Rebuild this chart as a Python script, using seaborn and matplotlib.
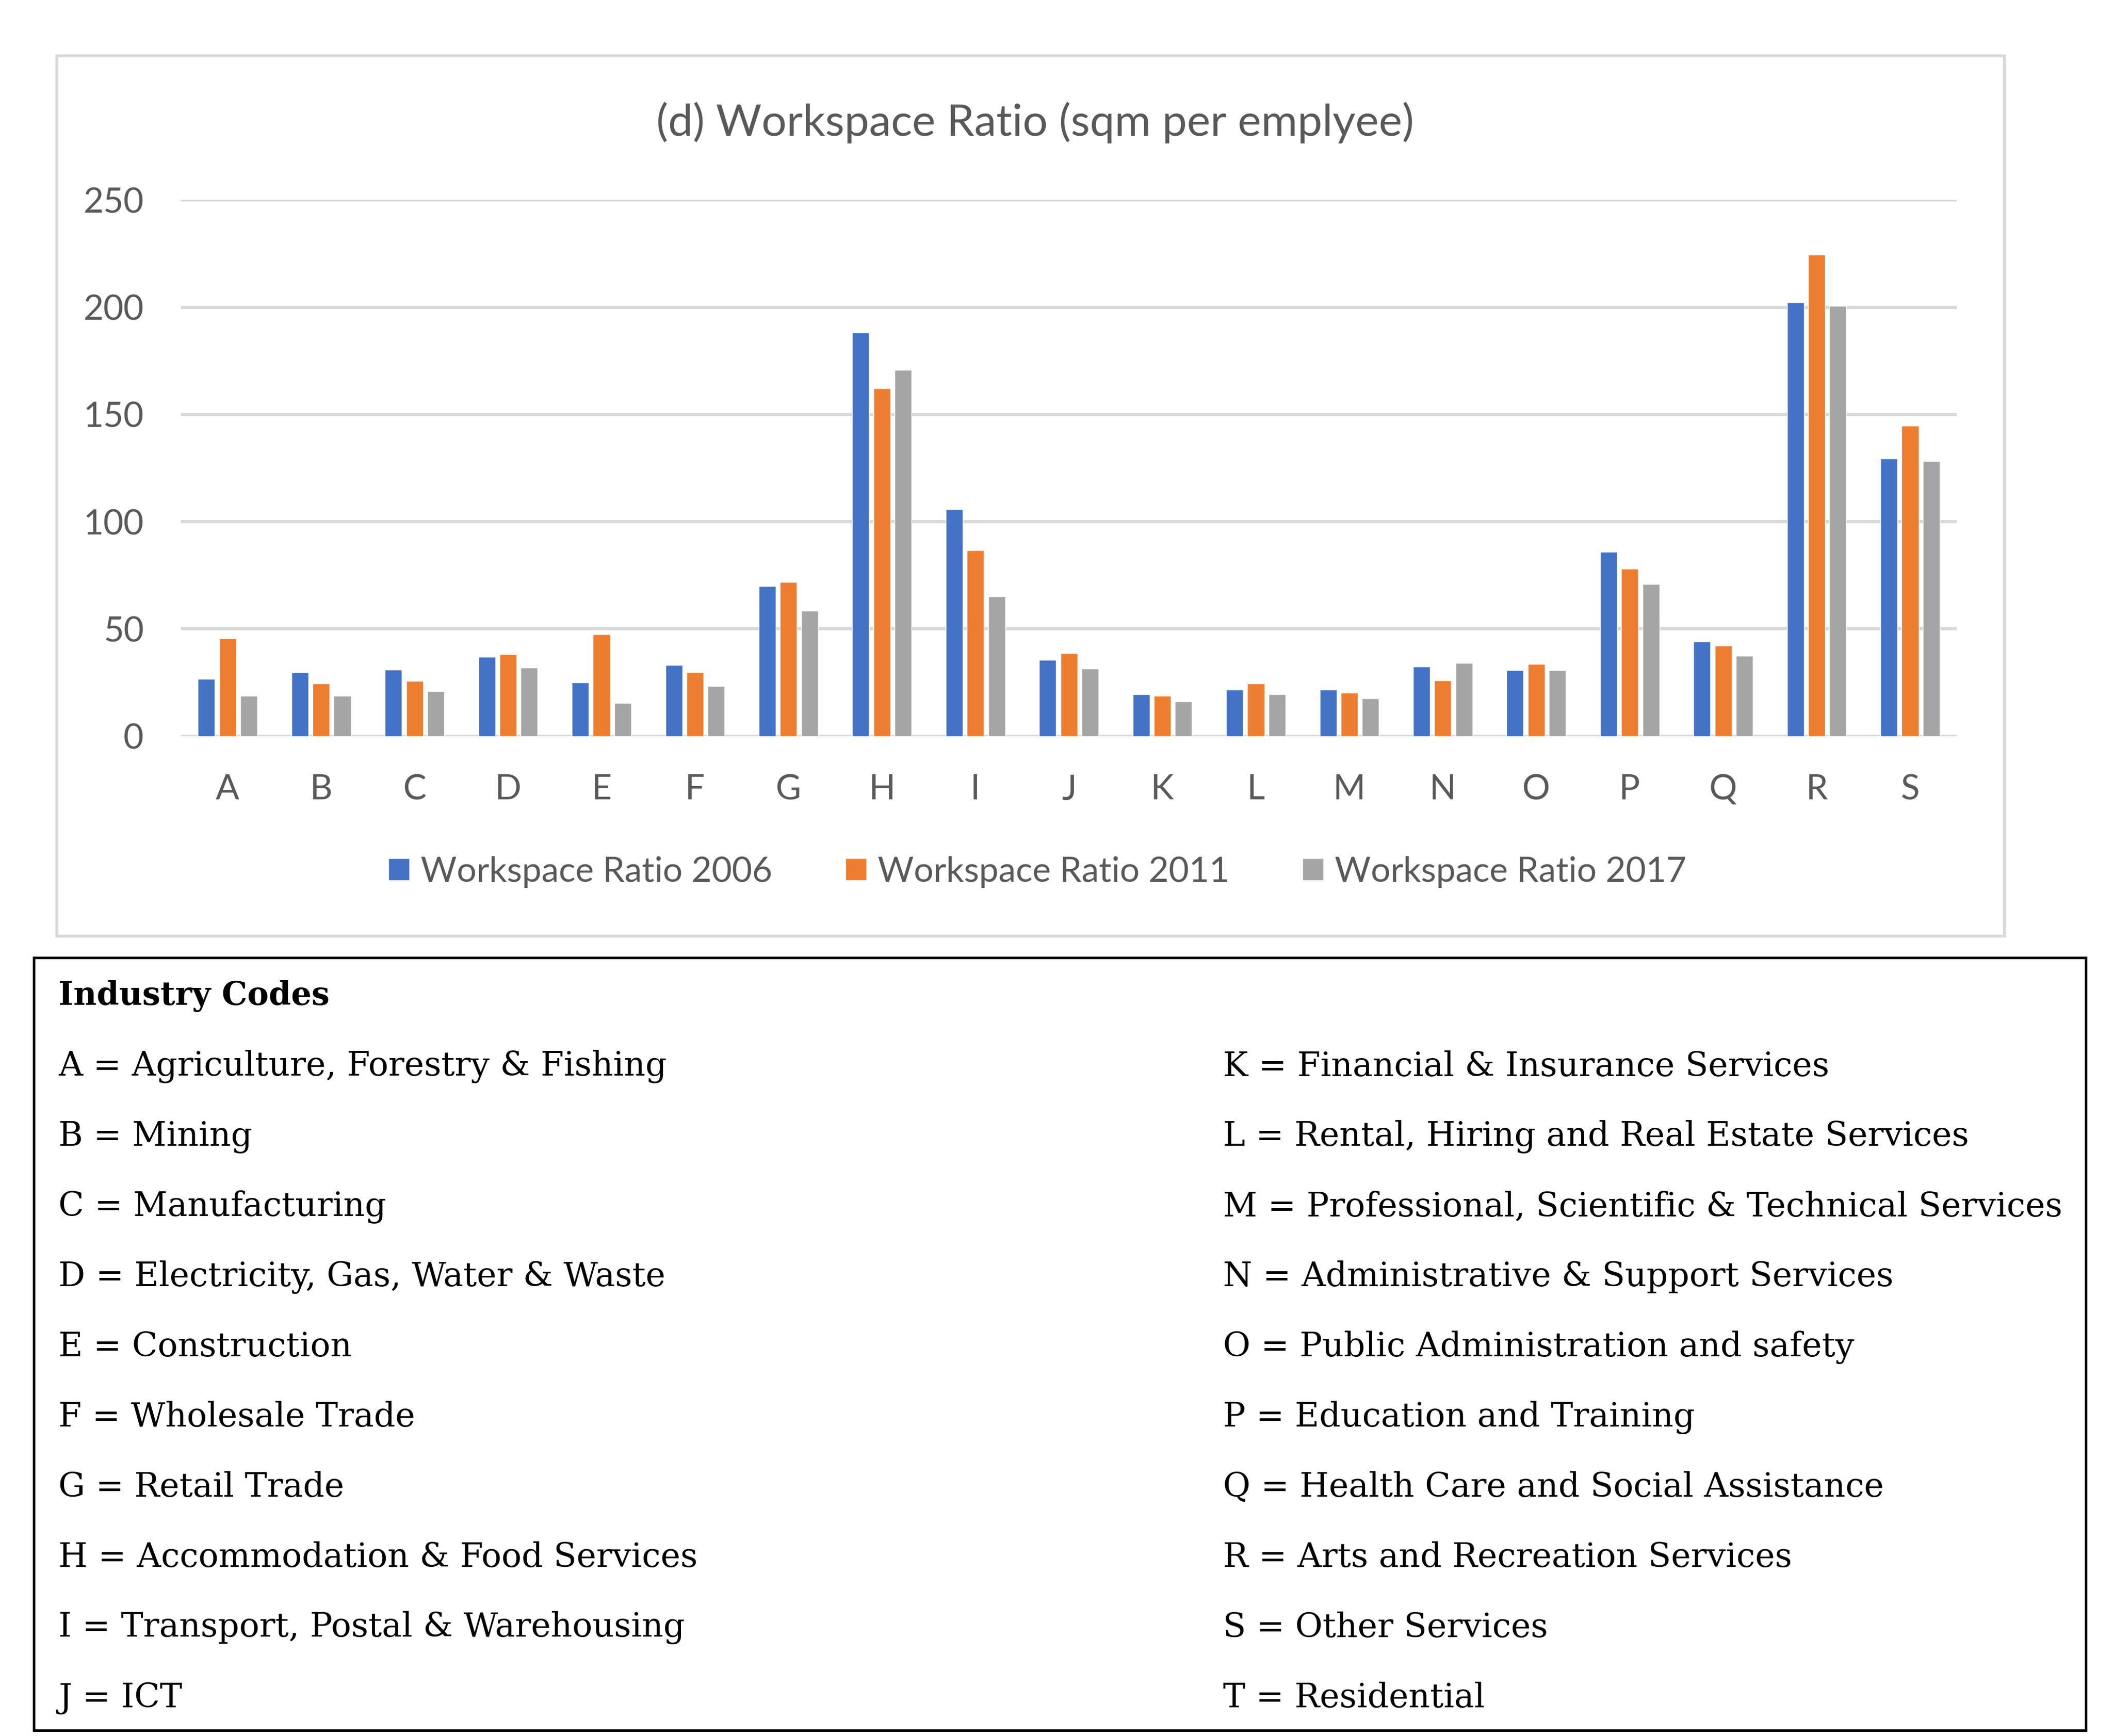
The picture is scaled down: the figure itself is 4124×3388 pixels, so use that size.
import matplotlib
matplotlib.use("Agg")
import matplotlib.pyplot as plt
import seaborn as sns
import pandas as pd
from matplotlib.patches import Rectangle

# data
codes = list("ABCDEFGHIJKLMNOPQRS")
ratio_2006 = [26.7, 29.7, 30.9, 36.9, 24.9, 33.0, 69.8, 188.3, 105.8, 35.5,
              19.4, 21.6, 21.6, 32.3, 30.7, 86.0, 44.0, 202.3, 129.5]
ratio_2011 = [45.6, 24.4, 25.6, 38.2, 47.5, 29.7, 71.9, 162.2, 86.6, 38.7,
              18.7, 24.4, 20.3, 26.0, 33.6, 78.1, 42.2, 224.6, 144.7]
ratio_2017 = [18.7, 18.7, 20.8, 32.0, 15.4, 23.3, 58.5, 170.7, 65.2, 31.4,
              16.1, 19.4, 17.5, 34.1, 30.7, 70.8, 37.3, 200.5, 128.1]
series_names = ["Workspace Ratio 2006", "Workspace Ratio 2011", "Workspace Ratio 2017"]
colours = ["#4472C4", "#ED7D31", "#A5A5A5"]
y_ticks = [0, 50, 100, 150, 200, 250]

left_codes = [
    "A = Agriculture, Forestry & Fishing",
    "B = Mining",
    "C = Manufacturing",
    "D = Electricity, Gas, Water & Waste",
    "E = Construction",
    "F = Wholesale Trade",
    "G = Retail Trade",
    "H = Accommodation & Food Services",
    "I = Transport, Postal & Warehousing",
    "J = ICT",
]
right_codes = [
    "K = Financial & Insurance Services",
    "L = Rental, Hiring and Real Estate Services",
    "M = Professional, Scientific & Technical Services",
    "N = Administrative & Support Services",
    "O = Public Administration and safety",
    "P = Education and Training",
    "Q = Health Care and Social Assistance",
    "R = Arts and Recreation Services",
    "S = Other Services",
    "T = Residential",
]

# long table for seaborn
rows = []
for name, vals in zip(series_names, [ratio_2006, ratio_2011, ratio_2017]):
    for c, v in zip(codes, vals):
        rows.append({"code": c, "series": name, "value": v})
df = pd.DataFrame(rows)

sns.set_style("white")
plt.rcParams["font.family"] = ["Lato", "DejaVu Sans"]
text_grey = "#595959"
grid_grey = "#D9D9D9"

fig = plt.figure(figsize=(41.24, 33.88), dpi=100)

# chart frame and table frame
fig.patches.append(Rectangle((0.027, 0.4608), 0.9215, 0.5071, transform=fig.transFigure,
                             fill=False, edgecolor=grid_grey, linewidth=4))
fig.patches.append(Rectangle((0.0161, 0.0031), 0.971, 0.4452, transform=fig.transFigure,
                             fill=False, edgecolor="black", linewidth=3.5))

ax = fig.add_axes([0.0856, 0.576, 0.8405, 0.3088])
sns.barplot(data=df, x="code", y="value", hue="series", palette=colours,
            width=0.68, gap=0.2, ax=ax, saturation=1)

ax.set_ylim(0, 250)
ax.set_yticks(y_ticks)
ax.set_xlim(-0.5, len(codes) - 0.5)
ax.set_xlabel("")
ax.set_ylabel("")
ax.set_axisbelow(True)
ax.yaxis.grid(True, color=grid_grey, linewidth=4.5)
for s in ax.spines.values():
    s.set_visible(False)
ax.tick_params(axis="both", length=0, labelsize=49, labelcolor=text_grey)
ax.tick_params(axis="y", pad=52)
ax.tick_params(axis="x", pad=53)

handles, labels = ax.get_legend_handles_labels()
ax.legend_.remove()
fig.legend(handles, labels, loc="center", bbox_to_anchor=(0.491, 0.4977), ncol=3,
           frameon=False, fontsize=49, labelcolor=text_grey, handlelength=0.6,
           handleheight=0.6, handletextpad=0.32, columnspacing=2.1)

fig.text(0.49, 0.9295, "(d) Workspace Ratio (sqm per emplyee)", ha="center", va="center",
         fontsize=62, color=text_grey)

# industry code table
serif = ["DejaVu Serif"]
fig.text(0.0277, 0.4263, "Industry Codes", ha="left", va="center", fontsize=45,
         fontweight="bold", family=serif, color="black")
for i, (lt, rt) in enumerate(zip(left_codes, right_codes)):
    y = 1 - (784 + 51.56 * i) / 1276
    fig.text(0.0277, y, lt, ha="left", va="center", fontsize=47, family=serif, color="black")
    fig.text(0.5789, y, rt, ha="left", va="center", fontsize=47, family=serif, color="black")

fig.savefig("out.png", dpi=100)
